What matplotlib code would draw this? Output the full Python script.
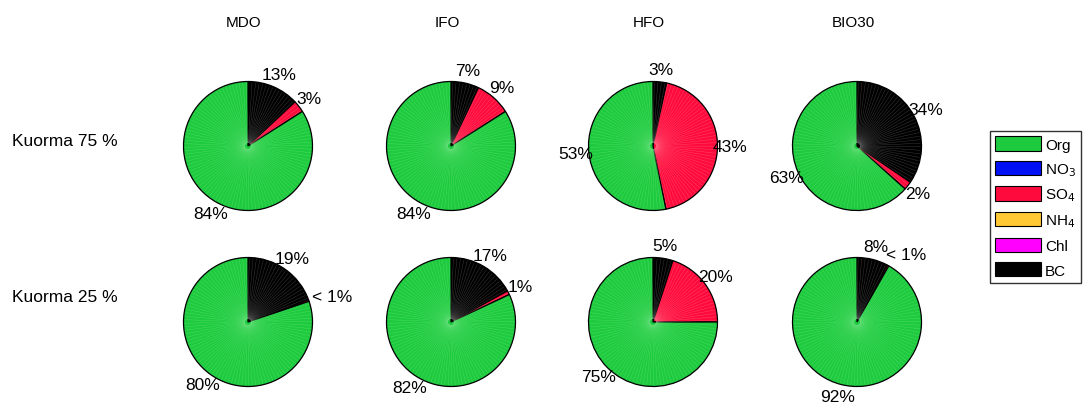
import numpy as np
import matplotlib.pyplot as plt
from matplotlib.patches import Patch

plt.rcParams['font.family'] = ['Liberation Sans', 'DejaVu Sans']

fuels = ['MDO', 'IFO', 'HFO', 'BIO30']
loads = ['Kuorma 75 %', 'Kuorma 25 %']

# shares (%) per load row, per fuel column
org = [[84, 84, 53.2, 63.4], [80.2, 82, 75, 91.8]]
no3 = [[0, 0, 0, 0], [0, 0, 0, 0]]
so4 = [[3, 9, 43.4, 2.1], [0.4, 1, 20, 0.4]]
nh4 = [[0, 0, 0, 0], [0, 0, 0, 0]]
chl = [[0, 0, 0, 0], [0, 0, 0, 0]]
bc = [[13, 7, 3.4, 34.5], [19.4, 17, 5, 7.8]]

species = ['Org', 'NO$_3$', 'SO$_4$', 'NH$_4$', 'Chl', 'BC']
colors = ['#1ecb3f', '#0010f5', '#ff0a3c', '#ffc835', '#ff00ff', '#000000']
texture = ['#7ee88f', '#6070ff', '#ff8aa0', '#ffe090', '#ff90ff', '#808080']

W, H = 1085, 406
fig = plt.figure(figsize=(W / 100, H / 100), dpi=100)

col_x = [248, 451, 653, 857]
row_y = [147, 323]
r_px = 64.5
lim = 1.5


def label_text(v):
    if v < 1:
        return '< 1%'
    return '%d%%' % round(v)


for i in range(2):
    for j in range(4):
        cx, cy = col_x[j], row_y[i]
        size = 2 * lim * r_px
        ax = fig.add_axes([(cx - size / 2) / W, 1 - (cy + size / 2) / H,
                           size / W, size / H])
        # clockwise from top: BC, Chl, NH4, SO4, NO3, Org
        vals = [bc[i][j], chl[i][j], nh4[i][j], so4[i][j], no3[i][j], org[i][j]]
        idx = [5, 4, 3, 2, 1, 0]
        keep = [k for k, v in zip(idx, vals) if v > 0]
        vals = [v for v in vals if v > 0]
        wedges, _ = ax.pie(vals, colors=[colors[k] for k in keep],
                           startangle=90, counterclock=False, radius=1,
                           wedgeprops=dict(edgecolor='black', linewidth=0.9))
        # radial line texture
        for w, k in zip(wedges, keep):
            t1, t2 = sorted([w.theta1, w.theta2])
            for a in np.arange(t1 + 1.5, t2 - 0.8, 3.2):
                ar = np.deg2rad(a)
                ax.plot([0.05 * np.cos(ar), 0.98 * np.cos(ar)],
                        [0.05 * np.sin(ar), 0.98 * np.sin(ar)],
                        color=texture[k], lw=0.3, alpha=0.5, zorder=3)
        for w, v in zip(wedges, vals):
            mid = np.deg2rad((w.theta1 + w.theta2) / 2)
            x, y = 1.2 * np.cos(mid), 1.2 * np.sin(mid)
            txt = label_text(v)
            if txt.startswith('<'):
                x += 0.18
            ax.text(x, y, txt, ha='center', va='center', fontsize=12.5, zorder=5)
        ax.set_xlim(-lim, lim)
        ax.set_ylim(-lim, lim)
        ax.set_aspect('equal')
        ax.axis('off')

for j, f in enumerate(fuels):
    fig.text((col_x[j] - 4) / W, 1 - 23 / H, f, ha='center', va='center', fontsize=11)

for i, lab in enumerate(loads):
    fig.text(12 / W, 1 - [141, 298][i] / H, lab, ha='left', va='center', fontsize=12.5)

handles = [Patch(facecolor=c, edgecolor='black', linewidth=0.8) for c in colors]
leg = fig.legend(handles, species, loc='upper left',
                 bbox_to_anchor=(990 / W, 1 - 132 / H), borderaxespad=0,
                 fontsize=11, handlelength=3.0, handleheight=1.05,
                 labelspacing=0.58, handletextpad=0.25, borderpad=0.35,
                 fancybox=False, framealpha=1, edgecolor='#333333')
leg.get_frame().set_linewidth(1.0)

fig.savefig('out.png', dpi=100)
